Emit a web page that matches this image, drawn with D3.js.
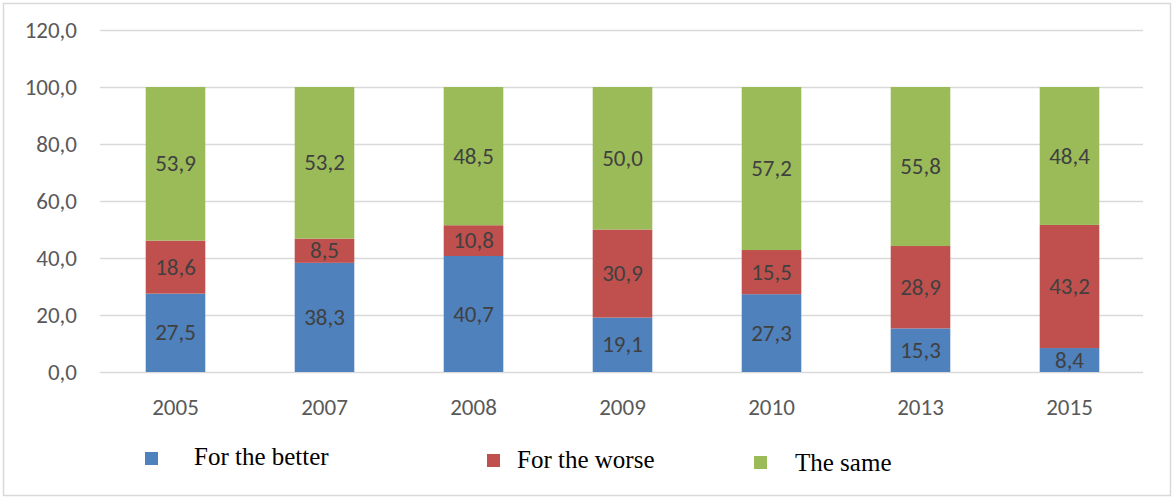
<!DOCTYPE html>
<html>
  <head>
    <meta charset="utf-8">
    <title>Changes by year</title>
    <style>
      body { margin: 0; background: #fff; }
      .axis-label { font-family: Carlito, Calibri, "Liberation Sans", sans-serif; font-size: 23px; fill: #595959; }
      .value-label { font-family: Carlito, Calibri, "Liberation Sans", sans-serif; font-size: 23px; fill: #404040; }
      .legend-label { font-family: "Liberation Serif", "Times New Roman", serif; font-size: 25px; fill: #000; }
    </style>
  </head>
  <body>
    <script src="https://d3js.org/d3.v7.min.js"></script>
    <script>
      // data
      var years = ["2005", "2007", "2008", "2009", "2010", "2013", "2015"];
      var forBetter = [27.5, 38.3, 40.7, 19.1, 27.3, 15.3, 8.4];
      var forWorse = [18.6, 8.5, 10.8, 30.9, 15.5, 28.9, 43.2];
      var theSame = [53.9, 53.2, 48.5, 50.0, 57.2, 55.8, 48.4];
      var seriesNames = ["For the better", "For the worse", "The same"];
      var yTicks = [0, 20, 40, 60, 80, 100, 120];

      var colors = ["#4F81BD", "#C0504D", "#9BBB59"];

      var W = 1172, H = 497;
      var margin = {top: 30, left: 100},
          width = 1043,
          height = 342;

      var svg = d3.select("body").append("svg")
          .attr("width", W)
          .attr("height", H);

      // chart border
      svg.append("rect")
          .attr("x", 3.5).attr("y", 3.5)
          .attr("width", W - 5).attr("height", H - 5)
          .attr("fill", "#fff")
          .attr("stroke", "#D9D9D9")
          .attr("stroke-width", 1.5);

      var g = svg.append("g")
          .attr("transform", "translate(" + margin.left + "," + margin.top + ")");

      var x = d3.scaleBand()
          .domain(years)
          .range([0, width])
          .paddingInner(0.6)
          .paddingOuter(0.3);

      var y = d3.scaleLinear()
          .domain([0, 120])
          .range([height, 0]);

      // gridlines
      g.selectAll(".grid")
          .data(yTicks)
          .enter().append("line")
          .attr("x1", 0).attr("x2", width)
          .attr("y1", function(d) { return Math.round(y(d)) + 0.5; })
          .attr("y2", function(d) { return Math.round(y(d)) + 0.5; })
          .attr("stroke", "#D9D9D9")
          .attr("stroke-width", 1.3);

      // y axis labels
      var fmt = function(d) { return d3.format(".1f")(d).replace(".", ","); };
      g.selectAll(".ylab")
          .data(yTicks)
          .enter().append("text")
          .attr("class", "axis-label")
          .attr("x", -23)
          .attr("y", function(d) { return y(d); })
          .attr("dy", "0.33em")
          .attr("text-anchor", "end")
          .text(fmt);

      // stacked data
      var rows = years.map(function(yr, i) {
        return {year: yr, s0: forBetter[i], s1: forWorse[i], s2: theSame[i]};
      });
      var stack = d3.stack().keys(["s0", "s1", "s2"]);
      var layers = stack(rows);

      var layer = g.selectAll(".layer")
          .data(layers)
          .enter().append("g")
          .attr("fill", function(d, i) { return colors[i]; });

      layer.selectAll("rect")
          .data(function(d) { return d; })
          .enter().append("rect")
          .attr("x", function(d) { return x(d.data.year) + 1; })
          .attr("width", x.bandwidth())
          .attr("y", function(d) { return y(d[1]); })
          .attr("height", function(d) { return y(d[0]) - y(d[1]); });

      layer.selectAll(".value-label")
          .data(function(d) { return d; })
          .enter().append("text")
          .attr("class", "value-label")
          .attr("text-anchor", "middle")
          .attr("x", function(d) { return x(d.data.year) + 1 + x.bandwidth() / 2; })
          .attr("y", function(d) { return y((d[0] + d[1]) / 2); })
          .attr("dy", "0.33em")
          .text(function(d) { return fmt(d[1] - d[0]); });

      // x axis labels
      g.selectAll(".xlab")
          .data(years)
          .enter().append("text")
          .attr("class", "axis-label")
          .attr("text-anchor", "middle")
          .attr("x", function(d) { return x(d) + 1 + x.bandwidth() / 2; })
          .attr("y", height + 35)
          .attr("dy", "0.33em")
          .text(function(d) { return d; });

      // legend
      var legendPos = [{sx: 145, tx: 194, ty: 465}, {sx: 487, tx: 517, ty: 468}, {sx: 754, tx: 795, ty: 471}];
      var legend = svg.selectAll(".legend")
          .data(seriesNames)
          .enter().append("g");

      legend.append("rect")
          .attr("x", function(d, i) { return legendPos[i].sx; })
          .attr("y", function(d, i) { return legendPos[i].ty - 13 - i; })
          .attr("width", 13).attr("height", 13)
          .attr("fill", function(d, i) { return colors[i]; });

      legend.append("text")
          .attr("class", "legend-label")
          .attr("x", function(d, i) { return legendPos[i].tx; })
          .attr("y", function(d, i) { return legendPos[i].ty; })
          .text(function(d) { return d; });
    </script>
  </body>
</html>
